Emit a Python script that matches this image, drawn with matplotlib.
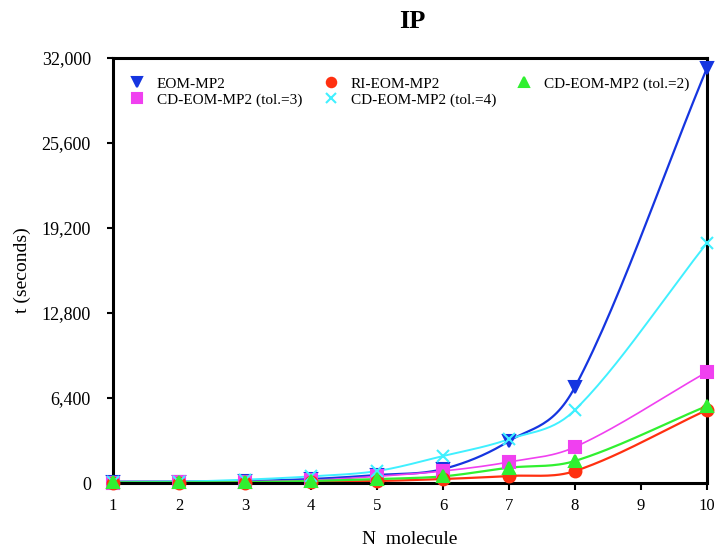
import matplotlib
matplotlib.use("Agg")
import matplotlib.pyplot as plt
import numpy as np
from matplotlib.ticker import FuncFormatter

plt.rcParams['font.family'] = ['Liberation Serif', 'DejaVu Serif']

# data
n_mol = [1, 2, 3, 4, 5, 6, 7, 8, 10]
eom_mp2 = [100, 100, 150, 300, 600, 1050, 3160, 7230, 31250]
ri_eom_mp2 = [20, 20, 30, 75, 150, 300, 530, 900, 5500]
cd_tol2 = [40, 40, 60, 150, 300, 500, 1150, 1660, 5800]
cd_tol3 = [30, 40, 100, 200, 500, 900, 1580, 2710, 8360]
cd_tol4 = [50, 100, 250, 500, 900, 2030, 3300, 5500, 18070]
yticks = [0, 6400, 12800, 19200, 25600, 32000]


def smooth(x, y, n=30):
    # catmull-rom style cubic hermite through the points (for the drawn line only)
    x = np.asarray(x, float); y = np.asarray(y, float)
    m = np.zeros_like(y)
    m[1:-1] = (y[2:] - y[:-2]) / (x[2:] - x[:-2])
    m[0] = (y[1] - y[0]) / (x[1] - x[0])
    m[-1] = (y[-1] - y[-2]) / (x[-1] - x[-2])
    xs = []; ys = []
    for i in range(len(x) - 1):
        h = x[i+1] - x[i]
        t = np.linspace(0, 1, n)
        h00 = 2*t**3 - 3*t**2 + 1
        h10 = t**3 - 2*t**2 + t
        h01 = -2*t**3 + 3*t**2
        h11 = t**3 - t**2
        xs.append(x[i] + t*h)
        ys.append(h00*y[i] + h10*h*m[i] + h01*y[i+1] + h11*h*m[i+1])
    return np.concatenate(xs), np.concatenate(ys)


fig = plt.figure(figsize=(7.16, 5.52), dpi=100)
ax = fig.add_axes([113/716, 1-483/552, 594/716, 425/552])

series = [
    (eom_mp2, 'EOM-MP2', '#1535E0', 'v', 1.6),
    (cd_tol3, 'CD-EOM-MP2 (tol.=3)', '#F040F0', 's', 1.2),
    (ri_eom_mp2, 'RI-EOM-MP2', '#FF3010', 'o', 1.6),
    (cd_tol4, 'CD-EOM-MP2 (tol.=4)', '#40F0FF', 'x', 1.4),
    (cd_tol2, 'CD-EOM-MP2 (tol.=2)', '#30F030', '^', 1.6),
]
handles = []
for vals, lab, col, mk, lw in series:
    sx, sy = smooth(n_mol, vals)
    ax.plot(sx, sy, color=col, lw=lw, zorder=2)
    h, = ax.plot(n_mol, vals, ls='none', marker=mk, color=col, ms=8.5,
                 mew=1.5, label=lab, zorder=3, clip_on=False)
    handles.append(h)

ax.set_xlim(1, 10)
ax.set_ylim(0, 32000)
ax.set_xticks(range(1, 11))
ax.set_yticks(yticks)
ax.yaxis.set_major_formatter(FuncFormatter(lambda v, p: '{:,.0f}'.format(v)))
ax.tick_params(axis='both', direction='out', length=5, width=1.5)
ax.tick_params(axis='x', pad=6, labelsize=12)
ax.tick_params(axis='y', pad=12, length=4, labelsize=13)
for s in ax.spines.values():
    s.set_linewidth(2.2)

fig.text(412/716, 1-22/552, 'IP', fontsize=19, fontweight='bold',
         ha='center', va='center')
ax.set_xlabel('N  molecule', fontsize=14)
ax.set_ylabel('t (seconds)', fontsize=14)
ax.xaxis.set_label_coords(0.5, -(539-483)/425)
ax.yaxis.set_label_coords(-(113-22)/594, 0.5)
ax.xaxis.label.set_va('center')
ax.yaxis.label.set_va('center')

ax.legend(handles=handles, ncol=3, loc='upper left',
          bbox_to_anchor=((128-113)/594, 1-(77-58)/425),
          frameon=False, fontsize=11, handlelength=1.2, handletextpad=0.7,
          columnspacing=1.25, labelspacing=0.15, borderpad=0.0,
          borderaxespad=0.0, markerscale=0.8)

fig.savefig('out.png', dpi=100)
